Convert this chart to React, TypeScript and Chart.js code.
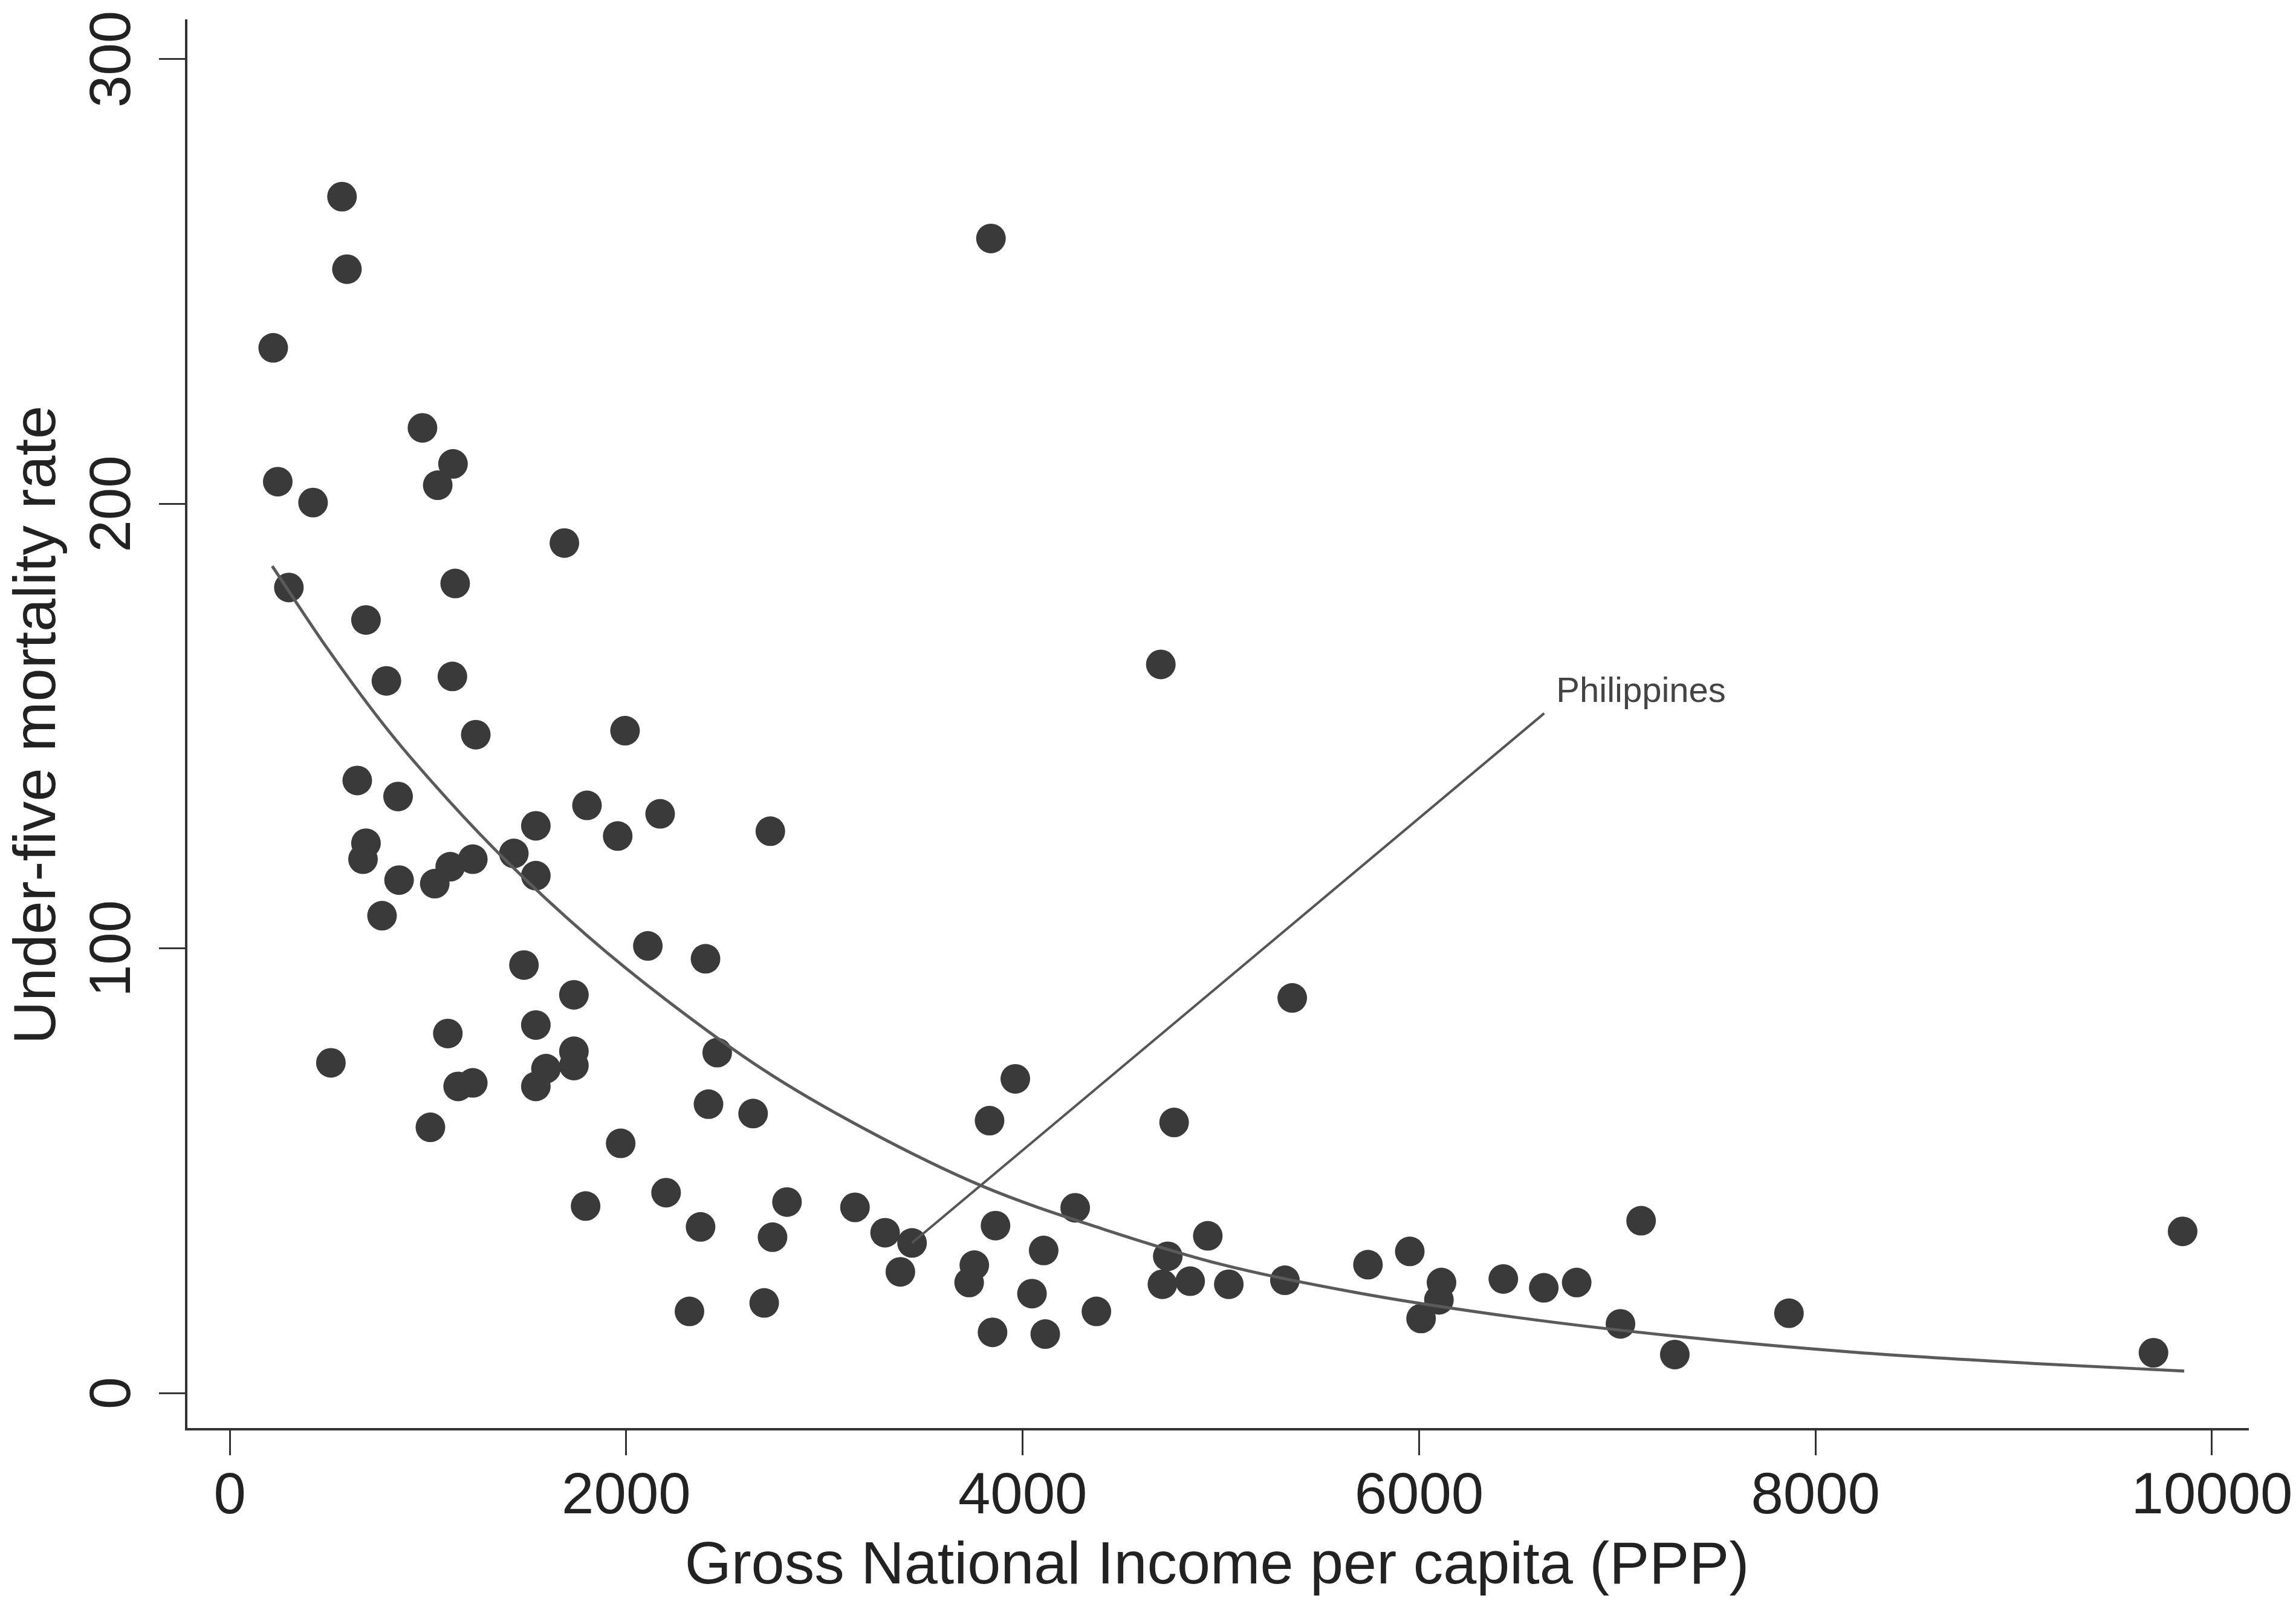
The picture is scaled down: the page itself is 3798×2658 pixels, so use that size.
import React, { useEffect, useRef } from "react";
import { Chart, registerables } from "chart.js";

Chart.register(...registerables);

// Gross National Income per capita (PPP) of each country
const incomeX = [
  219, 566, 591, 242, 420, 298, 972, 1049, 1126, 1137,
  687, 790, 1123, 1241, 643, 849, 687, 672, 854, 768,
  510, 1034, 1112, 1226, 1433, 1544, 1544, 1688, 1802, 1994,
  1957, 2171, 2109, 2400, 2727, 1484, 1544, 1736, 1100, 1152,
  1226, 1012, 1544, 1595, 1736, 1736, 2459, 2415, 1972, 2201,
  1795, 2375, 2319, 2640, 3963, 3833, 4764, 2811, 2738, 3154,
  3306, 3442, 3383, 3863, 4106, 4265, 3756, 3730, 4047, 4372,
  3848, 4114, 2696, 4732, 4705, 4845, 4934, 5360, 5040, 5323,
  5742, 5953, 6113, 6100, 6010, 6425, 6629, 6795, 7120, 7016,
  7290, 7866, 9852, 9705, 3840, 4697,
];

// Under-five mortality rate of each country
const mortalityY = [
  235.1, 269.1, 252.8, 205.0, 200.3, 181.2, 217.1, 204.2, 209.0, 182.1,
  173.9, 160.2, 161.2, 148.1, 137.8, 134.2, 123.7, 120.1, 115.4, 107.4,
  74.3, 114.6, 118.4, 120.1, 121.4, 127.6, 116.4, 191.2, 132.2, 149.0,
  125.3, 130.3, 100.6, 97.7, 126.4, 96.3, 82.8, 89.6, 80.9, 69.0,
  69.8, 59.8, 69.0, 73.0, 76.9, 73.7, 76.6, 65.0, 56.2, 45.1,
  42.1, 37.4, 18.4, 62.9, 70.7, 61.3, 60.9, 43.0, 35.1, 41.8,
  36.1, 33.8, 27.3, 37.7, 32.1, 41.7, 28.8, 24.9, 22.4, 18.4,
  13.7, 13.3, 20.3, 30.8, 24.5, 25.2, 35.4, 88.9, 24.5, 25.4,
  28.9, 31.9, 24.9, 21.0, 16.8, 25.7, 23.7, 24.9, 38.8, 15.6,
  8.7, 18.0, 36.4, 9.1, 259.7, 163.9,
];

// Fitted curve
const curveX = [214, 500, 800, 1100, 1400, 1800, 2200, 2700, 3200, 3800, 4400, 5000, 5700, 6500, 7300, 8200, 9100, 9860];
const curveY = [186, 167, 149, 133.5, 119.5, 103, 88.5, 72.5, 59.5, 46.5, 37, 29, 22.5, 17, 12.8, 9.2, 6.7, 5];

// Leader line and label for the Philippines
const leaderX = [3442, 6631];
const leaderY = [33.8, 152.9];
const labelText = "Philippines";
const labelX = 6692;
const labelY = 155.4;

// Axes
const xTicks = [0, 2000, 4000, 6000, 8000, 10000];
const yTicks = [0, 100, 200, 300];
const xTitle = "Gross National Income per capita (PPP)";
const yTitle = "Under-five mortality rate";

const FONT = "'Liberation Sans', Arial, Helvetica, sans-serif";

const labelPlugin = {
  id: "philLabel",
  afterDatasetsDraw(chart: any) {
    const { ctx, scales } = chart;
    const px = scales.x.getPixelForValue(labelX);
    const py = scales.y.getPixelForValue(labelY);
    ctx.save();
    ctx.font = `58px ${FONT}`;
    ctx.fillStyle = "#444";
    ctx.textAlign = "left";
    ctx.textBaseline = "alphabetic";
    ctx.fillText(labelText, px, py);
    ctx.restore();
  },
};

export default function App() {
  const ref = useRef<HTMLCanvasElement | null>(null);

  useEffect(() => {
    if (!ref.current) return;
    const points = incomeX.map((x, i) => ({ x, y: mortalityY[i] }));
    const curve = curveX.map((x, i) => ({ x, y: curveY[i] }));
    const leader = leaderX.map((x, i) => ({ x, y: leaderY[i] }));

    const chart = new Chart(ref.current, {
      type: "scatter",
      data: {
        datasets: [
          {
            label: "fit",
            data: curve,
            showLine: true,
            pointRadius: 0,
            borderColor: "#5a5a5a",
            borderWidth: 5,
            cubicInterpolationMode: "monotone",
            order: 0,
          } as any,
          {
            label: "leader",
            data: leader,
            showLine: true,
            pointRadius: 0,
            borderColor: "#555",
            borderWidth: 4,
            order: 1,
          } as any,
          {
            label: "countries",
            data: points,
            pointRadius: 24.5,
            pointHoverRadius: 24.5,
            backgroundColor: "#3a3a3a",
            borderColor: "#3a3a3a",
            borderWidth: 0,
            order: 2,
          } as any,
        ],
      },
      options: {
        animation: false,
        responsive: false,
        events: [],
        layout: { padding: { left: 0, top: 34, right: 80, bottom: 0 } },
        plugins: {
          legend: { display: false },
          tooltip: { enabled: false },
        },
        scales: {
          x: {
            type: "linear",
            min: -220,
            max: 10180,
            afterBuildTicks: (s: any) => {
              s.ticks = xTicks.map((v) => ({ value: v }));
            },
            afterFit: (s: any) => {
              s.height = 294;
              s.paddingLeft = 0;
              s.paddingRight = 0;
            },
            ticks: {
              font: { family: FONT, size: 96 },
              color: "#222",
              padding: 12,
              maxRotation: 0,
              minRotation: 0,
              autoSkip: false,
              callback: (v: any) => String(v),
            },
            grid: {
              drawOnChartArea: false,
              drawTicks: true,
              tickLength: 43,
              color: "#333",
              lineWidth: 3,
            },
            border: { display: true, color: "#333", width: 4 },
            title: {
              display: true,
              text: xTitle,
              font: { family: FONT, size: 99 },
              color: "#222",
              padding: { top: 0, bottom: 7 },
            },
          },
          y: {
            type: "linear",
            min: -8.1,
            max: 308.7,
            afterBuildTicks: (s: any) => {
              s.ticks = yTicks.map((v) => ({ value: v }));
            },
            afterFit: (s: any) => {
              s.width = 308;
              s.paddingTop = 0;
              s.paddingBottom = 0;
            },
            ticks: {
              font: { family: FONT, size: 96 },
              color: "#222",
              minRotation: 90,
              maxRotation: 90,
              crossAlign: "center",
              padding: -6,
              autoSkip: false,
              callback: (v: any) => String(v),
            },
            grid: {
              drawOnChartArea: false,
              drawTicks: true,
              tickLength: 45,
              color: "#333",
              lineWidth: 3,
            },
            border: { display: true, color: "#333", width: 4 },
            title: {
              display: true,
              text: yTitle,
              font: { family: FONT, size: 99 },
              color: "#222",
              padding: { top: 4, bottom: 0 },
            },
          },
        },
      } as any,
      plugins: [labelPlugin],
    });
    return () => chart.destroy();
  }, []);

  return (
    <div style={{ position: "fixed", left: 0, top: 0, width: 3798, height: 2658, background: "#fff" }}>
      <canvas ref={ref} width={3798} height={2658} style={{ display: "block" }} />
    </div>
  );
}
